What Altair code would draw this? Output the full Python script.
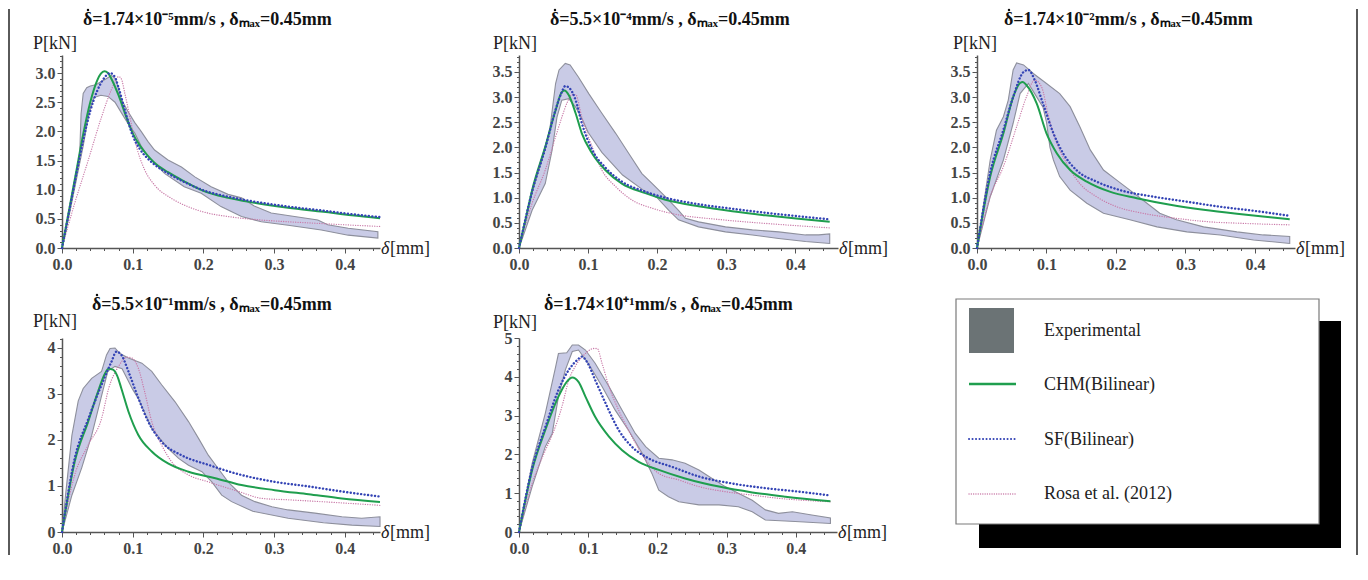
import altair as alt
import pandas as pd

# ---------------- data ----------------
titles = [
    "δ=1.74×10⁻⁵mm/s , δₘₐₓ=0.45mm",
    "δ=5.5×10⁻⁴mm/s , δₘₐₓ=0.45mm",
    "δ=1.74×10⁻²mm/s , δₘₐₓ=0.45mm",
    "δ=5.5×10⁻¹mm/s , δₘₐₓ=0.45mm",
    "δ=1.74×10⁺¹mm/s , δₘₐₓ=0.45mm",
]
legend_labels = ["Experimental", "CHM(Bilinear)", "SF(Bilinear)", "Rosa et al. (2012)"]

# panel 1
r1_exp_up = [(0, 0), (0.01, 0.6), (0.02, 1.25), (0.025, 1.6), (0.027, 2.3), (0.03, 2.65), (0.035, 2.75),
             (0.04, 2.78), (0.048, 2.8), (0.055, 2.85), (0.062, 2.9), (0.07, 2.96), (0.076, 2.9),
             (0.084, 2.55), (0.093, 2.35), (0.103, 2.15), (0.112, 2.0), (0.122, 1.82), (0.131, 1.68),
             (0.15, 1.51), (0.169, 1.39), (0.188, 1.22), (0.211, 1.05), (0.235, 0.92), (0.254, 0.86),
             (0.272, 0.72), (0.296, 0.6), (0.329, 0.54), (0.362, 0.48), (0.376, 0.4), (0.405, 0.34),
             (0.447, 0.28)]
r1_exp_lo = [(0, 0), (0.01, 0.55), (0.02, 1.15), (0.03, 1.75), (0.038, 2.3), (0.045, 2.58), (0.055, 2.62),
             (0.065, 2.6), (0.075, 2.5), (0.085, 2.3), (0.095, 2.1), (0.103, 1.97), (0.112, 1.75),
             (0.122, 1.57), (0.145, 1.28), (0.173, 1.05), (0.197, 0.94), (0.225, 0.71), (0.254, 0.54),
             (0.282, 0.45), (0.32, 0.39), (0.367, 0.31), (0.405, 0.22), (0.447, 0.17)]
r1_chm = [(0, 0), (0.01, 0.65), (0.02, 1.3), (0.03, 1.95), (0.04, 2.5), (0.05, 2.88), (0.055, 2.99),
          (0.06, 3.03), (0.065, 3.0), (0.07, 2.9), (0.08, 2.62), (0.09, 2.28), (0.1, 1.97), (0.11, 1.76),
          (0.12, 1.6), (0.13, 1.47), (0.15, 1.3), (0.175, 1.13), (0.2, 0.98), (0.235, 0.86), (0.27, 0.78),
          (0.32, 0.69), (0.37, 0.62), (0.41, 0.56), (0.45, 0.51)]
r1_sf = [(0, 0), (0.01, 0.62), (0.02, 1.25), (0.03, 1.85), (0.04, 2.35), (0.05, 2.7), (0.06, 2.92),
         (0.068, 3.0), (0.075, 2.93), (0.08, 2.75), (0.09, 2.32), (0.1, 1.93), (0.11, 1.7), (0.12, 1.55),
         (0.13, 1.44), (0.15, 1.28), (0.175, 1.12), (0.2, 0.99), (0.235, 0.88), (0.27, 0.8), (0.32, 0.71),
         (0.37, 0.64), (0.41, 0.58), (0.45, 0.53)]
r1_rosa = [(0, 0), (0.018, 0.77), (0.037, 1.5), (0.056, 2.25), (0.07, 2.72), (0.077, 2.9), (0.08, 2.94),
           (0.084, 2.9), (0.089, 2.65), (0.096, 2.25), (0.103, 1.85), (0.117, 1.34), (0.131, 1.08),
           (0.155, 0.85), (0.178, 0.71), (0.206, 0.6), (0.235, 0.54), (0.272, 0.49), (0.32, 0.45),
           (0.367, 0.42), (0.414, 0.39), (0.45, 0.37)]

# panel 2
r2_exp_up = [(0, 0), (0.019, 1.1), (0.038, 2.0), (0.045, 2.4), (0.053, 3.27), (0.058, 3.54), (0.067, 3.67),
             (0.074, 3.64), (0.086, 3.4), (0.101, 3.07), (0.12, 2.68), (0.14, 2.28), (0.159, 1.88),
             (0.178, 1.48), (0.193, 1.28), (0.212, 1.02), (0.231, 0.75), (0.241, 0.59), (0.26, 0.52),
             (0.299, 0.42), (0.338, 0.36), (0.376, 0.32), (0.415, 0.26), (0.434, 0.26), (0.45, 0.28)]
r2_exp_lo = [(0, 0), (0.019, 0.75), (0.038, 1.28), (0.048, 1.95), (0.055, 2.6), (0.062, 2.94), (0.072, 2.97),
             (0.082, 2.8), (0.092, 2.55), (0.1, 2.3), (0.12, 1.9), (0.15, 1.45), (0.18, 1.15), (0.2, 1.0),
             (0.217, 0.75), (0.231, 0.56), (0.26, 0.42), (0.299, 0.32), (0.338, 0.26), (0.376, 0.19),
             (0.415, 0.13), (0.45, 0.09)]
r2_chm = [(0, 0), (0.01, 0.6), (0.019, 1.15), (0.038, 2.01), (0.053, 2.74), (0.062, 3.1), (0.066, 3.13),
          (0.072, 3.04), (0.082, 2.68), (0.091, 2.28), (0.106, 1.88), (0.125, 1.55), (0.149, 1.28),
          (0.183, 1.09), (0.212, 0.96), (0.26, 0.83), (0.309, 0.73), (0.357, 0.65), (0.405, 0.58),
          (0.45, 0.52)]
r2_sf = [(0, 0), (0.019, 1.12), (0.038, 1.98), (0.053, 2.75), (0.062, 3.1), (0.067, 3.22), (0.073, 3.18),
         (0.082, 2.94), (0.091, 2.48), (0.106, 1.95), (0.125, 1.6), (0.149, 1.32), (0.183, 1.12),
         (0.212, 1.0), (0.26, 0.87), (0.309, 0.78), (0.357, 0.7), (0.405, 0.63), (0.45, 0.57)]
r2_rosa = [(0, 0), (0.019, 0.89), (0.038, 1.55), (0.053, 2.21), (0.062, 2.6), (0.07, 2.9), (0.077, 3.05),
           (0.082, 3.05), (0.091, 2.6), (0.106, 2.01), (0.12, 1.55), (0.14, 1.22), (0.164, 0.95),
           (0.193, 0.79), (0.231, 0.66), (0.28, 0.58), (0.328, 0.52), (0.376, 0.47), (0.45, 0.4)]

# panel 3
r3_exp_up = [(0, 0), (0.019, 1.75), (0.028, 2.34), (0.038, 2.61), (0.045, 2.94), (0.052, 3.54), (0.057, 3.68),
             (0.067, 3.64), (0.081, 3.47), (0.1, 3.27), (0.119, 3.07), (0.134, 2.81), (0.148, 2.41),
             (0.163, 1.95), (0.182, 1.55), (0.201, 1.35), (0.22, 1.15), (0.239, 0.95), (0.263, 0.69),
             (0.287, 0.56), (0.326, 0.42), (0.374, 0.32), (0.412, 0.26), (0.45, 0.23)]
r3_exp_lo = [(0, 0), (0.019, 1.02), (0.038, 1.75), (0.052, 2.48), (0.062, 3.07), (0.074, 3.27), (0.086, 3.0),
             (0.095, 2.8), (0.1, 2.5), (0.105, 2.0), (0.11, 1.75), (0.119, 1.42), (0.134, 1.15),
             (0.158, 0.89), (0.182, 0.69), (0.22, 0.56), (0.259, 0.42), (0.302, 0.32), (0.35, 0.26),
             (0.398, 0.16), (0.45, 0.09)]
r3_chm = [(0, 0), (0.019, 1.42), (0.038, 2.28), (0.052, 3.0), (0.062, 3.28), (0.066, 3.3), (0.071, 3.24),
          (0.086, 2.87), (0.1, 2.28), (0.115, 1.88), (0.134, 1.55), (0.158, 1.32), (0.191, 1.12),
          (0.23, 0.99), (0.278, 0.86), (0.326, 0.76), (0.374, 0.68), (0.422, 0.61), (0.45, 0.57)]
r3_sf = [(0, 0), (0.019, 1.5), (0.038, 2.35), (0.052, 3.0), (0.067, 3.5), (0.074, 3.54), (0.083, 3.34),
         (0.095, 2.87), (0.11, 2.28), (0.124, 1.88), (0.143, 1.55), (0.172, 1.32), (0.206, 1.15),
         (0.254, 1.02), (0.302, 0.92), (0.35, 0.82), (0.398, 0.74), (0.45, 0.64)]
r3_rosa = [(0, 0), (0.019, 1.02), (0.038, 1.62), (0.057, 2.41), (0.071, 3.0), (0.083, 3.34), (0.093, 3.2),
           (0.103, 2.61), (0.115, 2.08), (0.129, 1.68), (0.148, 1.28), (0.172, 1.02), (0.201, 0.82),
           (0.239, 0.69), (0.287, 0.59), (0.335, 0.52), (0.383, 0.49), (0.45, 0.46)]

# panel 4
r4_exp_up = [(0, 0), (0.005, 0.8), (0.014, 2.1), (0.023, 2.85), (0.03, 3.12), (0.042, 3.34), (0.056, 3.49),
             (0.063, 3.85), (0.068, 3.99), (0.075, 4.0), (0.082, 3.88), (0.094, 3.78), (0.113, 3.67),
             (0.127, 3.49), (0.141, 3.2), (0.16, 2.83), (0.179, 2.4), (0.193, 2.04), (0.207, 1.67),
             (0.221, 1.38), (0.235, 1.09), (0.254, 0.8), (0.273, 0.66), (0.297, 0.55), (0.32, 0.48),
             (0.358, 0.41), (0.396, 0.33), (0.424, 0.3), (0.45, 0.33)]
r4_exp_lo = [(0, 0), (0.014, 0.8), (0.028, 1.4), (0.042, 2.1), (0.055, 2.9), (0.065, 3.5), (0.075, 3.6),
             (0.085, 3.55), (0.1, 3.1), (0.108, 2.9), (0.127, 2.25), (0.15, 1.82), (0.165, 1.6),
             (0.179, 1.45), (0.198, 1.31), (0.212, 1.09), (0.226, 0.8), (0.24, 0.66), (0.27, 0.45),
             (0.32, 0.3), (0.37, 0.2), (0.41, 0.15), (0.45, 0.12)]
r4_chm = [(0, 0), (0.018, 1.53), (0.037, 2.4), (0.051, 3.05), (0.06, 3.42), (0.066, 3.55), (0.072, 3.53),
          (0.078, 3.4), (0.084, 3.12), (0.094, 2.62), (0.108, 2.11), (0.127, 1.75), (0.15, 1.49),
          (0.179, 1.31), (0.217, 1.17), (0.254, 1.02), (0.301, 0.91), (0.349, 0.82), (0.396, 0.73),
          (0.45, 0.65)]
r4_sf = [(0, 0), (0.018, 1.6), (0.037, 2.45), (0.056, 3.2), (0.07, 3.7), (0.077, 3.92), (0.084, 3.85),
         (0.094, 3.49), (0.108, 2.91), (0.122, 2.4), (0.141, 1.96), (0.169, 1.67), (0.207, 1.46),
         (0.254, 1.24), (0.301, 1.09), (0.349, 0.99), (0.396, 0.88), (0.45, 0.77)]
r4_rosa = [(0, 0), (0.018, 1.24), (0.037, 1.89), (0.056, 2.47), (0.066, 3.12), (0.08, 3.6), (0.092, 3.8),
           (0.099, 3.78), (0.108, 3.56), (0.117, 3.05), (0.127, 2.4), (0.141, 1.89), (0.155, 1.53),
           (0.179, 1.24), (0.207, 1.09), (0.25, 0.88), (0.283, 0.73), (0.32, 0.7), (0.367, 0.66),
           (0.45, 0.58)]

# panel 5
r5_exp_up = [(0, 0), (0.019, 1.77), (0.038, 3.06), (0.053, 4.26), (0.057, 4.6), (0.069, 4.62), (0.077, 4.82),
             (0.086, 4.82), (0.096, 4.69), (0.11, 4.35), (0.13, 3.75), (0.149, 3.14), (0.168, 2.54),
             (0.183, 2.2), (0.202, 1.9), (0.221, 1.86), (0.24, 1.77), (0.26, 1.6), (0.279, 1.38),
             (0.298, 1.17), (0.317, 1.0), (0.337, 0.82), (0.356, 0.57), (0.375, 0.48), (0.395, 0.52),
             (0.423, 0.44), (0.45, 0.36)]
r5_exp_lo = [(0, 0), (0.019, 1.17), (0.038, 2.2), (0.048, 2.54), (0.057, 3.49), (0.067, 4.18), (0.077, 4.65),
             (0.086, 4.69), (0.1, 4.35), (0.12, 3.75), (0.139, 3.14), (0.158, 2.63), (0.178, 2.03),
             (0.192, 1.51), (0.202, 1.08), (0.216, 0.91), (0.231, 0.78), (0.26, 0.7), (0.289, 0.7),
             (0.317, 0.65), (0.337, 0.52), (0.356, 0.31), (0.399, 0.27), (0.45, 0.22)]
r5_chm = [(0, 0), (0.019, 1.6), (0.038, 2.63), (0.057, 3.49), (0.069, 3.87), (0.077, 3.98), (0.086, 3.87),
          (0.096, 3.49), (0.11, 2.97), (0.13, 2.46), (0.149, 2.11), (0.173, 1.81), (0.202, 1.6),
          (0.24, 1.38), (0.289, 1.17), (0.337, 1.02), (0.385, 0.91), (0.45, 0.79)]
r5_sf = [(0, 0), (0.019, 1.65), (0.038, 2.7), (0.057, 3.66), (0.072, 4.18), (0.084, 4.43), (0.091, 4.52),
         (0.098, 4.39), (0.11, 3.92), (0.125, 3.32), (0.144, 2.63), (0.163, 2.2), (0.187, 1.9),
         (0.221, 1.68), (0.26, 1.43), (0.308, 1.25), (0.356, 1.13), (0.404, 1.04), (0.45, 0.94)]
r5_rosa = [(0, 0), (0.019, 1.25), (0.038, 2.1), (0.048, 2.5), (0.062, 3.23), (0.072, 3.92), (0.081, 4.26),
           (0.096, 4.6), (0.108, 4.73), (0.113, 4.73), (0.12, 4.35), (0.13, 3.75), (0.144, 3.14),
           (0.163, 2.46), (0.183, 1.86), (0.202, 1.51), (0.231, 1.34), (0.26, 1.17), (0.298, 1.04),
           (0.337, 0.95), (0.375, 0.87), (0.45, 0.78)]

# axis ticks
x_ticks = [round(i * 0.02, 2) for i in range(23)]
y_ticks_a = [round(i * 0.1, 1) for i in range(34)]
y_ticks_b = [round(i * 0.1, 1) for i in range(39)]
y_ticks_c = [round(i * 0.2, 1) for i in range(22)]
y_ticks_d = [round(i * 0.2, 1) for i in range(26)]

# ---------------- style ----------------
SERIF = "Liberation Serif"
BAND_FILL = "#c9cbe6"
BAND_STROKE = "#8d8f9c"
GREEN = "#1f9e4e"
BLUE = "#3444b5"
PINK = "#c97aa8"
AXIS = "#555555"
LABEL = "#444444"

AXIS_STYLE = dict(domainColor=AXIS, domainWidth=1.5, tickColor=AXIS, tickWidth=1,
                  labelFont=SERIF, labelFontSize=16, labelFontWeight="bold", labelColor=LABEL,
                  title=None, grid=False, labelOverlap=False, labelFlush=False)


def xy_df(points):
    return pd.DataFrame({"x": [p[0] for p in points], "P": [p[1] for p in points]})


def band_df(up, lo):
    pts = list(up) + list(reversed(lo))
    return pd.DataFrame({"x": [p[0] for p in pts], "P": [p[1] for p in pts], "i": list(range(len(pts)))})


def txt(s, x, y, size=18, weight="normal", style="normal", align="left", color="#222222"):
    return alt.Chart(pd.DataFrame({"t": [s]})).mark_text(
        font=SERIF, fontSize=size, fontWeight=weight, fontStyle=style, color=color,
        align=align, baseline="alphabetic"
    ).encode(text="t:N", x=alt.value(x), y=alt.value(y))


def panel(title, up, lo, chm, sf, rosa, width, height, xmax, ymax, yticks, ystep, yfmt,
          title_x, title_y, plab_x, plab_y, frame=False):
    x_major = "abs(datum.value*10-round(datum.value*10))<0.001"
    y_major = f"abs(datum.value/{ystep}-round(datum.value/{ystep}))<0.001"
    xenc = alt.X("x:Q", scale=alt.Scale(domain=[0, xmax], nice=False, zero=False),
                 axis=alt.Axis(values=x_ticks,
                               labelExpr=f"{x_major} ? format(datum.value, '.1f') : ''",
                               tickSize={"condition": {"test": x_major, "value": 5}, "value": 2.5},
                               labelPadding=3, **AXIS_STYLE))
    yenc = alt.Y("P:Q", scale=alt.Scale(domain=[0, ymax], nice=False, zero=False),
                 axis=alt.Axis(values=yticks,
                               labelExpr=f"{y_major} ? format(datum.value, '{yfmt}') : ''",
                               tickSize={"condition": {"test": y_major, "value": 5}, "value": 2.5},
                               labelPadding=2, **AXIS_STYLE))
    band = alt.Chart(band_df(up, lo)).mark_line(
        fill=BAND_FILL, stroke=BAND_STROKE, strokeWidth=1.1, interpolate="linear"
    ).encode(x=xenc, y=yenc, order="i:Q")
    l_rosa = alt.Chart(xy_df(rosa)).mark_line(
        color=PINK, strokeWidth=1.3, strokeDash=[0.1, 2.3], strokeCap="round", interpolate="monotone"
    ).encode(x=xenc, y=yenc)
    l_chm = alt.Chart(xy_df(chm)).mark_line(
        color=GREEN, strokeWidth=2, interpolate="monotone"
    ).encode(x=xenc, y=yenc)
    l_sf = alt.Chart(xy_df(sf)).mark_line(
        color=BLUE, strokeWidth=2.4, strokeDash=[0.1, 3.4], strokeCap="round", interpolate="monotone"
    ).encode(x=xenc, y=yenc)
    t_title = txt(title, title_x, title_y, size=18, weight="bold", color="#111111")
    # the dot of δ-dot, drawn as a tiny filled circle above the δ
    t_dot = alt.Chart(pd.DataFrame({"a": [0]})).mark_circle(
        color="#111111", opacity=1, size=6
    ).encode(x=alt.value(title_x + 5), y=alt.value(title_y - 15))
    t_p = txt("P[kN]", plab_x, plab_y)
    t_d1 = txt("δ", width + 1, height + 6, style="italic")
    t_d2 = txt("[mm]", width + 10, height + 6)
    layers = [band, l_rosa, l_chm, l_sf, t_title, t_dot, t_p, t_d1, t_d2]
    if frame:
        fr = pd.DataFrame({"a": [0]})
        layers.append(alt.Chart(fr).mark_rule(color="#5a5a5a", strokeWidth=2).encode(
            x=alt.value(-53), y=alt.value(-46), y2=alt.value(500)))
        layers.append(alt.Chart(fr).mark_rule(color="#5a5a5a", strokeWidth=2).encode(
            x=alt.value(1295), y=alt.value(-46), y2=alt.value(500)))
    return alt.layer(*layers).properties(width=width, height=height)


p1 = panel(titles[0], r1_exp_up, r1_exp_lo, r1_chm, r1_sf, r1_rosa, 318, 193, 0.45, 3.31,
           y_ticks_a, 0.5, ".1f", 21, -30, -29, -6, frame=True)
p2 = panel(titles[1], r2_exp_up, r2_exp_lo, r2_chm, r2_sf, r2_rosa, 319, 193, 0.462, 3.837,
           y_ticks_b, 0.5, ".1f", 31, -30, -26, -6)
p3 = panel(titles[2], r3_exp_up, r3_exp_lo, r3_chm, r3_sf, r3_rosa, 318, 193, 0.4576, 3.837,
           y_ticks_b, 0.5, ".1f", 27, -30, -24, -6)
p4 = panel(titles[3], r4_exp_up, r4_exp_lo, r4_chm, r4_sf, r4_rosa, 318, 194, 0.45, 4.217,
           y_ticks_c, 1, "d", 30, -28, -29, -11)
p5 = panel(titles[4], r5_exp_up, r5_exp_lo, r5_chm, r5_sf, r5_rosa, 318, 194, 0.4595, 5.0,
           y_ticks_d, 1, "d", 25, -28, -26, -10)

# ---------------- legend panel ----------------
one = pd.DataFrame({"a": [0]})
leg_df = pd.DataFrame({"label": legend_labels})
L0 = -21  # legend box left relative to this panel
shadow = alt.Chart(one).mark_rect(color="#000000").encode(
    x=alt.value(L0 + 23), x2=alt.value(L0 + 385), y=alt.value(-17), y2=alt.value(210))
box = alt.Chart(one).mark_rect(fill="#ffffff", stroke="#7a7a7a", strokeWidth=1.2).encode(
    x=alt.value(L0), x2=alt.value(L0 + 363), y=alt.value(-39), y2=alt.value(186))
swatch = alt.Chart(one).mark_rect(color="#6b7375").encode(
    x=alt.value(L0 + 13), x2=alt.value(L0 + 58), y=alt.value(-30), y2=alt.value(15))
leg_green = alt.Chart(one).mark_rule(color=GREEN, strokeWidth=2.5).encode(
    x=alt.value(L0 + 13), x2=alt.value(L0 + 60), y=alt.value(46))
leg_blue = alt.Chart(one).mark_rule(color=BLUE, strokeWidth=2, strokeDash=[0.1, 3.4], strokeCap="round").encode(
    x=alt.value(L0 + 13), x2=alt.value(L0 + 60), y=alt.value(101))
leg_pink = alt.Chart(one).mark_rule(color=PINK, strokeWidth=1.3, strokeDash=[0.1, 2.2], strokeCap="round").encode(
    x=alt.value(L0 + 13), x2=alt.value(L0 + 60), y=alt.value(156))
leg_text = alt.Chart(leg_df).mark_text(
    font=SERIF, fontSize=18, color="#222222", align="left", baseline="middle"
).encode(
    text="label:N",
    x=alt.value(L0 + 88),
    y=alt.Y("label:N", scale=alt.Scale(domain=legend_labels, range=[-7, 156], padding=0), axis=None),
)
legend = alt.layer(shadow, box, swatch, leg_green, leg_blue, leg_pink, leg_text).properties(
    width=340, height=194)

chart = alt.concat(
    p1, p2, p3, p4, p5, legend, columns=3, spacing={"row": 90, "column": 139}, bounds="flush", align="each"
).properties(padding=0, background="#ffffff").configure_view(stroke=None)

chart.save("out.html", embed_options={"renderer": "svg", "actions": False})
